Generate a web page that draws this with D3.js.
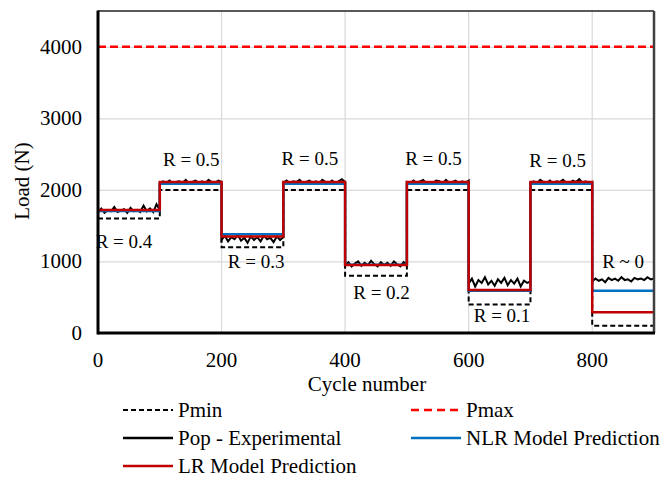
<!DOCTYPE html>
<html>
<head>
<meta charset="utf-8">
<title></title>
<script src="https://cdn.jsdelivr.net/npm/d3@7/dist/d3.min.js"></script>
<style>
  body { margin: 0; background: #fff; }
  text { font-family: "Liberation Serif", "Times New Roman", serif; fill: #000; }
</style>
</head>
<body>
<script>
const width = 664
const height = 478
const margin = { top: 11, left: 98, right: 10, bottom: 145 }
const innerW = 654 - margin.left
const innerH = 333 - margin.top

// data: one level per 100-cycle block
const blockStarts = [0, 100, 200, 300, 400, 500, 600, 700, 800]
const pmin = [1600, 2000, 1200, 2000, 800, 2000, 400, 2000, 100]
const pmax = [4000, 4000, 4000, 4000, 4000, 4000, 4000, 4000, 4000]
const lrPred = [1720, 2110, 1350, 2110, 950, 2110, 600, 2110, 290]
const nlrPred = [1705, 2085, 1380, 2085, 955, 2085, 590, 2085, 590]
// experimental load, 20 readings per block
const popExp = [
  [1690,1740,1680,1720,1700,1760,1690,1710,1730,1680,1750,1700,1720,1690,1780,1700,1740,1690,1800,1720],
  [2090,2120,2100,2130,2090,2110,2120,2100,2140,2090,2110,2130,2100,2120,2090,2140,2110,2100,2130,2110],
  [1300,1360,1280,1340,1310,1370,1290,1330,1260,1350,1300,1340,1280,1360,1310,1330,1270,1350,1300,1340],
  [2100,2130,2090,2120,2110,2140,2090,2110,2130,2100,2120,2090,2140,2110,2100,2130,2090,2120,2150,2110],
  [950,990,930,970,1000,940,980,950,1010,960,930,990,950,980,940,1000,960,930,990,960],
  [2110,2090,2130,2100,2120,2140,2090,2110,2100,2130,2120,2090,2140,2100,2110,2130,2090,2120,2100,2130],
  [690,760,650,740,700,780,680,730,660,750,700,770,670,740,690,760,650,730,700,720],
  [2100,2120,2090,2140,2110,2100,2130,2090,2120,2110,2140,2100,2090,2130,2110,2150,2100,2120,2090,2110],
  [720,760,730,750,710,770,740,760,730,780,740,750,720,770,750,760,740,780,750,760]
]
const xTicks = [0, 200, 400, 600, 800]
const yTicks = [0, 1000, 2000, 3000, 4000]
const rLabels = [
  { text: 'R = 0.4', c: 42, v: 1190 },
  { text: 'R = 0.5', c: 151, v: 2330 },
  { text: 'R = 0.3', c: 256, v: 910 },
  { text: 'R = 0.5', c: 343, v: 2350 },
  { text: 'R = 0.2', c: 459, v: 480 },
  { text: 'R = 0.5', c: 543, v: 2350 },
  { text: 'R = 0.1', c: 654, v: 150 },
  { text: 'R = 0.5', c: 744, v: 2320 },
  { text: 'R ~ 0', c: 850, v: 910 }
]

const svg = d3.select('body').append('svg')
  .attr('width', width)
  .attr('height', height)

const x = d3.scaleLinear().domain([0, 900]).range([0, innerW])
const y = d3.scaleLinear().domain([0, 4500]).range([innerH, 0])

const g = svg.append('g').attr('transform', `translate(${margin.left},${margin.top})`)

// grid
g.selectAll('.hgrid').data(yTicks.filter(d => d > 0)).enter().append('line')
  .attr('x1', 0).attr('x2', innerW)
  .attr('y1', d => y(d) + 0.5).attr('y2', d => y(d) + 0.5)
  .attr('stroke', '#d9d9d9').attr('stroke-width', 1.2)
g.selectAll('.vgrid').data(xTicks.filter(d => d > 0)).enter().append('line')
  .attr('y1', 0).attr('y2', innerH)
  .attr('x1', d => x(d)).attr('x2', d => x(d))
  .attr('stroke', '#d9d9d9').attr('stroke-width', 1.2)

// step series
const stepPts = levels => {
  const pts = blockStarts.map((b, i) => [b, levels[i]])
  pts.push([900, levels[levels.length - 1]])
  return pts
}
const stepLine = d3.line().x(d => x(d[0])).y(d => y(d[1])).curve(d3.curveStepAfter)
const plainLine = d3.line().x(d => x(d[0])).y(d => y(d[1]))

const expPts = []
popExp.forEach((vals, b) => {
  vals.forEach((v, k) => expPts.push([blockStarts[b] + k * 100 / (vals.length - 1), v]))
})

g.append('path').attr('d', stepLine(stepPts(pmin)))
  .attr('fill', 'none').attr('stroke', '#000').attr('stroke-width', 2)
  .attr('stroke-dasharray', '5,3')
g.append('path').attr('d', stepLine(stepPts(pmax)))
  .attr('fill', 'none').attr('stroke', '#ff0000').attr('stroke-width', 2.5)
  .attr('stroke-dasharray', '8,4')
g.append('path').attr('d', plainLine(expPts))
  .attr('fill', 'none').attr('stroke', '#000').attr('stroke-width', 2)
g.append('path').attr('d', stepLine(stepPts(nlrPred)))
  .attr('fill', 'none').attr('stroke', '#0070c0').attr('stroke-width', 2.5)
g.append('path').attr('d', stepLine(stepPts(lrPred)))
  .attr('fill', 'none').attr('stroke', '#c00000').attr('stroke-width', 2.5)

// frame
g.append('line').attr('x1', 0).attr('x2', innerW).attr('y1', 0).attr('y2', 0)
  .attr('stroke', '#222').attr('stroke-width', 1.5)
g.append('line').attr('x1', innerW).attr('x2', innerW).attr('y1', 0).attr('y2', innerH)
  .attr('stroke', '#404040').attr('stroke-width', 2.5)
g.append('line').attr('x1', 0).attr('x2', 0).attr('y1', -0.5).attr('y2', innerH + 1.5)
  .attr('stroke', '#000').attr('stroke-width', 3)
g.append('line').attr('x1', 0).attr('x2', innerW + 1).attr('y1', innerH).attr('y2', innerH)
  .attr('stroke', '#000').attr('stroke-width', 3)

// tick labels
g.selectAll('.ytl').data(yTicks).enter().append('text')
  .attr('x', -16).attr('y', d => y(d))
  .attr('text-anchor', 'end').attr('dominant-baseline', 'central')
  .style('font-size', '21px').text(d => d)
g.selectAll('.xtl').data(xTicks).enter().append('text')
  .attr('x', d => x(d)).attr('y', innerH + 34)
  .attr('text-anchor', 'middle')
  .style('font-size', '21px').text(d => d)

// axis titles
svg.append('text').attr('x', 367).attr('y', 391)
  .attr('text-anchor', 'middle').style('font-size', '21px').text('Cycle number')
svg.append('text').attr('transform', 'translate(29,181) rotate(-90)')
  .attr('text-anchor', 'middle').style('font-size', '21px').text('Load (N)')

// R annotations
g.selectAll('.rl').data(rLabels).enter().append('text')
  .attr('x', d => x(d.c)).attr('y', d => y(d.v))
  .attr('text-anchor', 'middle').style('font-size', '19px').text(d => d.text)

// legend
const legend = [
  { name: 'Pmin', color: '#000', dash: '5,3', w: 2, col: 0, row: 0 },
  { name: 'Pmax', color: '#ff0000', dash: '8,5', w: 2.5, col: 1, row: 0 },
  { name: 'Pop - Experimental', color: '#000', dash: null, w: 2.5, col: 0, row: 1 },
  { name: 'NLR Model Prediction', color: '#0070c0', dash: null, w: 2.5, col: 1, row: 1 },
  { name: 'LR Model Prediction', color: '#c00000', dash: null, w: 2.5, col: 0, row: 2 }
]
const colX = [123, 411]
const lg = svg.selectAll('.lg').data(legend).enter().append('g')
  .attr('transform', d => `translate(${colX[d.col]},${410 + d.row * 28})`)
lg.append('line').attr('x1', 0).attr('x2', 50).attr('y1', 0).attr('y2', 0)
  .attr('stroke', d => d.color).attr('stroke-width', d => d.w)
  .attr('stroke-dasharray', d => d.dash)
lg.append('text').attr('x', 55).attr('y', 0).attr('dominant-baseline', 'central')
  .style('font-size', '21px').text(d => d.name)
</script>
</body>
</html>
